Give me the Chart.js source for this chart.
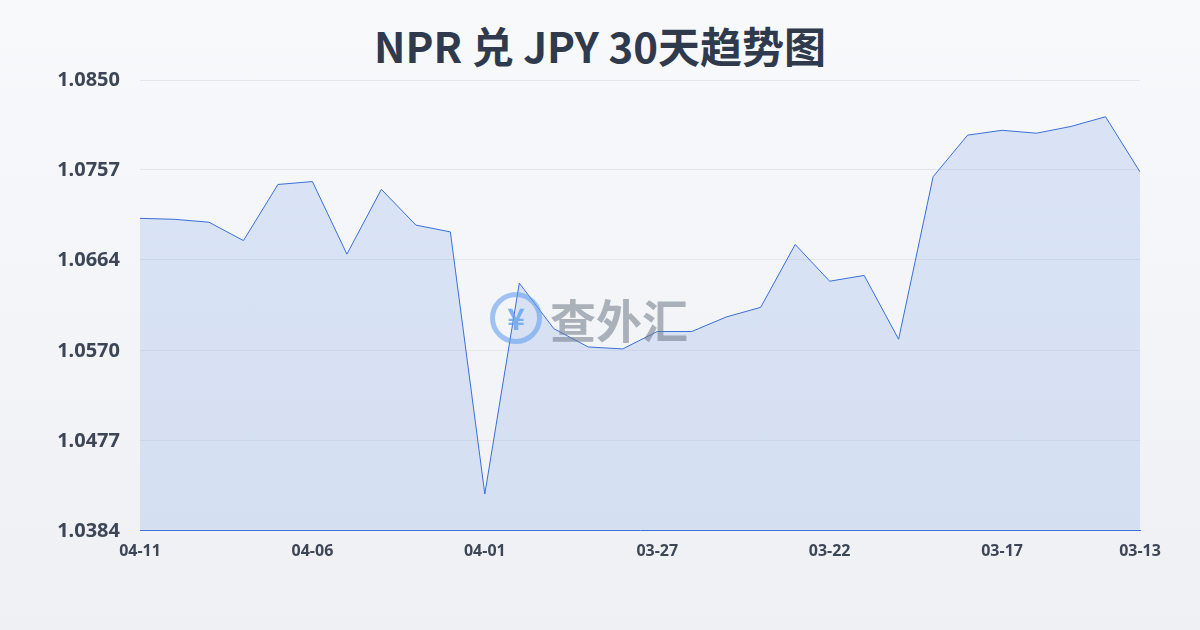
<!DOCTYPE html>
<html><head><meta charset="utf-8">
<script src="https://cdn.jsdelivr.net/npm/chart.js@4"></script>
<style>
html,body{margin:0;padding:0;}
body{width:1200px;height:630px;background:linear-gradient(#f8f9fb,#eef0f3);font-family:"Noto Sans","Noto Sans CJK SC",sans-serif;position:relative;overflow:hidden}
#t{position:absolute;top:14px;width:100%;text-align:center;font-size:42px;font-weight:bold;color:#2f3a4c;font-family:"Noto Sans CJK SC","Noto Sans",sans-serif}
#wm{position:absolute;left:490px;top:285px;font-size:46px;font-weight:bold;color:rgba(110,120,135,0.55);font-family:"Noto Sans CJK SC",sans-serif;display:flex;align-items:center;gap:8px}
#wm span.c{display:inline-block;width:52px;height:52px;border-radius:50%;border:5px solid rgba(100,160,240,0.6);box-sizing:border-box;text-align:center;line-height:40px;font-size:30px;color:rgba(100,160,240,0.8)}
#w{position:absolute;left:0;top:0;width:1200px;height:630px}
</style></head><body>
<div id="t">NPR 兑 JPY 30天趋势图</div>
<div id="w"><canvas id="c" width="1200" height="630"></canvas></div>
<div id="wm"><span class="c">¥</span>查外汇</div>
<script>
const categories=["04-11","04-10","04-09","04-08","04-07","04-06","04-05","04-04","04-03","04-02","04-01","03-31","03-30","03-29","03-28","03-27","03-26","03-25","03-24","03-23","03-22","03-21","03-20","03-19","03-18","03-17","03-16","03-15","03-14","03-13"];
const values=[1.0707,1.0706,1.0703,1.0684,1.0742,1.0745,1.0670,1.0737,1.0700,1.0693,1.0422,1.0640,1.0593,1.0574,1.0572,1.0590,1.0590,1.0605,1.0615,1.0680,1.0642,1.0648,1.0582,1.0750,1.0793,1.0798,1.0795,1.0802,1.0812,1.0755];
const yTicks=[1.0384,1.0477,1.0570,1.0664,1.0757,1.0850];
const shownIdx=[0,5,10,15,20,25,29];
Chart.defaults.font.family='"Noto Sans", sans-serif';
new Chart(document.getElementById('c'),{
 type:'line',
 data:{labels:categories,datasets:[{data:values,borderColor:'#3a6fd8',borderWidth:1,backgroundColor:'rgba(120,160,230,0.22)',fill:'start',pointRadius:0,tension:0}]},
 options:{responsive:false,animation:false,
  layout:{padding:{left:40,right:60,top:80,bottom:66}},
  plugins:{legend:{display:false},tooltip:{enabled:false}},
  scales:{
   x:{grid:{display:false},border:{color:'#3a6fd8'},
     ticks:{autoSkip:false,maxRotation:0,color:'#3d4656',font:{size:16,weight:'bold'},
       callback:(v,i)=>shownIdx.includes(i)?categories[i]:''}},
   y:{min:1.0384,max:1.0850,position:'left',
     afterFit:s=>{s.width=100;},
     afterBuildTicks:a=>{a.ticks=yTicks.map(v=>({value:v}));},
     grid:{color:'#e3e6ea',drawTicks:false},border:{display:false},
     ticks:{padding:20,color:'#3d4656',font:{size:20,weight:'bold'},callback:v=>v.toFixed(4)}}
  }}
});
</script></body></html>
